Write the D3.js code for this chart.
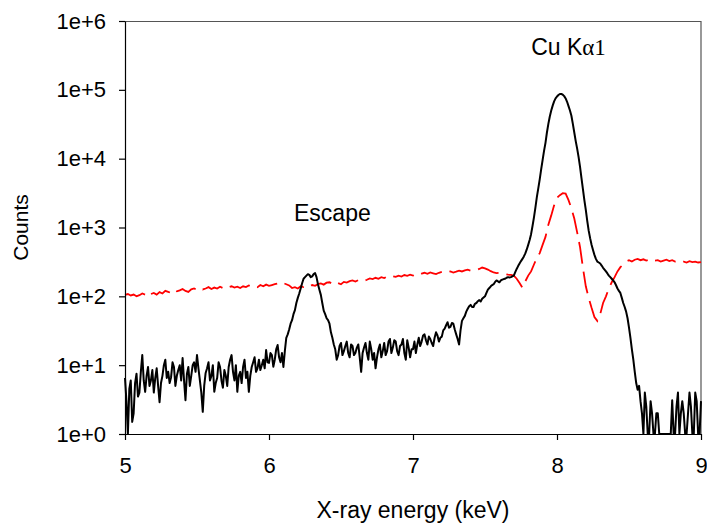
<!DOCTYPE html>
<html>
<head>
<meta charset="utf-8">
<script src="https://cdn.jsdelivr.net/npm/d3@7"></script>
<style>
  body { margin: 0; background: #fff; }
  text { font-family: Arial, "Liberation Sans", sans-serif; fill: #000; }
</style>
</head>
<body>
<svg width="707" height="525"></svg>
<script>
// black spectrum: energy (keV) and counts
let energyBlack = [
  5.00, 5.01, 5.02, 5.03, 5.04, 5.05, 5.06, 5.07, 5.08, 5.09,
  5.10, 5.11, 5.12, 5.13, 5.14, 5.15, 5.16, 5.17, 5.18, 5.19,
  5.20, 5.21, 5.22, 5.23, 5.24, 5.25, 5.26, 5.27, 5.28, 5.29,
  5.30, 5.31, 5.32, 5.33, 5.34, 5.35, 5.36, 5.37, 5.38, 5.39,
  5.40, 5.41, 5.42, 5.43, 5.44, 5.45, 5.46, 5.47, 5.48, 5.49,
  5.50, 5.51, 5.52, 5.53, 5.54, 5.55, 5.56, 5.57, 5.58, 5.59,
  5.60, 5.61, 5.62, 5.63, 5.64, 5.65, 5.66, 5.67, 5.68, 5.69,
  5.70, 5.71, 5.72, 5.73, 5.74, 5.75, 5.76, 5.77, 5.78, 5.79,
  5.80, 5.81, 5.82, 5.83, 5.84, 5.85, 5.86, 5.87, 5.88, 5.89,
  5.90, 5.91, 5.92, 5.93, 5.94, 5.95, 5.96, 5.97, 5.98, 5.99,
  6.00, 6.01, 6.02, 6.03, 6.04, 6.05, 6.06, 6.07, 6.08, 6.09,
  6.10, 6.11, 6.12, 6.13, 6.14, 6.15, 6.16, 6.17, 6.18, 6.19,
  6.20, 6.21, 6.22, 6.23, 6.24, 6.25, 6.26, 6.27, 6.28, 6.29,
  6.30, 6.31, 6.32, 6.33, 6.34, 6.35, 6.36, 6.37, 6.38, 6.39,
  6.40, 6.41, 6.42, 6.43, 6.44, 6.45, 6.46, 6.47, 6.48, 6.49,
  6.50, 6.51, 6.52, 6.53, 6.54, 6.55, 6.56, 6.57, 6.58, 6.59,
  6.60, 6.61, 6.62, 6.63, 6.64, 6.65, 6.66, 6.67, 6.68, 6.69,
  6.70, 6.71, 6.72, 6.73, 6.74, 6.75, 6.76, 6.77, 6.78, 6.79,
  6.80, 6.81, 6.82, 6.83, 6.84, 6.85, 6.86, 6.87, 6.88, 6.89,
  6.90, 6.91, 6.92, 6.93, 6.94, 6.95, 6.96, 6.97, 6.98, 6.99,
  7.00, 7.01, 7.02, 7.03, 7.04, 7.05, 7.06, 7.07, 7.08, 7.09,
  7.10, 7.11, 7.12, 7.13, 7.14, 7.15, 7.16, 7.17, 7.18, 7.19,
  7.20, 7.21, 7.22, 7.23, 7.24, 7.25, 7.26, 7.27, 7.28, 7.29,
  7.30, 7.31, 7.32, 7.33, 7.34, 7.35, 7.36, 7.37, 7.38, 7.39,
  7.40, 7.41, 7.42, 7.43, 7.44, 7.45, 7.46, 7.47, 7.48, 7.49,
  7.50, 7.51, 7.52, 7.53, 7.54, 7.55, 7.56, 7.57, 7.58, 7.59,
  7.60, 7.61, 7.62, 7.63, 7.64, 7.65, 7.66, 7.67, 7.68, 7.69,
  7.70, 7.71, 7.72, 7.73, 7.74, 7.75, 7.76, 7.77, 7.78, 7.79,
  7.80, 7.81, 7.82, 7.83, 7.84, 7.85, 7.86, 7.87, 7.88, 7.89,
  7.90, 7.91, 7.92, 7.93, 7.94, 7.95, 7.96, 7.97, 7.98, 7.99,
  8.00, 8.01, 8.02, 8.03, 8.04, 8.05, 8.06, 8.07, 8.08, 8.09,
  8.10, 8.11, 8.12, 8.13, 8.14, 8.15, 8.16, 8.17, 8.18, 8.19,
  8.20, 8.21, 8.22, 8.23, 8.24, 8.25, 8.26, 8.27, 8.28, 8.29,
  8.30, 8.31, 8.32, 8.33, 8.34, 8.35, 8.36, 8.37, 8.38, 8.39,
  8.40, 8.41, 8.42, 8.43, 8.44, 8.45, 8.46, 8.47, 8.48, 8.49,
  8.50, 8.51, 8.52, 8.53, 8.54, 8.55, 8.56, 8.57, 8.58, 8.59,
  8.60, 8.61, 8.62, 8.63, 8.64, 8.65, 8.66, 8.67, 8.68, 8.69,
  8.70, 8.71, 8.72, 8.73, 8.74, 8.75, 8.76, 8.77, 8.78, 8.79,
  8.80, 8.81, 8.82, 8.83, 8.84, 8.85, 8.86, 8.87, 8.88, 8.89,
  8.90, 8.91, 8.92, 8.93, 8.94, 8.95, 8.96, 8.97, 8.98, 8.99,
  9.00
];

let countsBlack = [
  6.5, 3.0, 1.0, 4.5, 6.0, 1.5, 2.0, 5.5, 7.5, 3.5,
  4.0, 8.0, 14, 6.0, 4.1, 7.0, 9.4, 5.0, 6.0, 8.5,
  4.0, 6.5, 9.0, 5.0, 2.9, 5.5, 7.0, 10, 12, 6.5,
  8.0, 5.5, 6.7, 11, 9.4, 5.0, 7.0, 8.5, 10, 6.0,
  12.7, 6.0, 3.1, 7.5, 9.4, 5.0, 7.0, 10, 11, 8.0,
  14, 9.0, 6.0, 4.0, 2.1, 5.0, 7.7, 9.0, 11, 6.0,
  7.0, 10, 4.1, 5.5, 6.5, 11, 9.4, 6.0, 4.7, 8.5,
  7.0, 5.0, 9.4, 12, 14, 8.0, 6.0, 10, 4.1, 7.0,
  8.0, 5.5, 9.4, 12, 6.5, 8.0, 4.1, 7.0, 9.4, 11,
  13, 8.0, 9.0, 12, 8.5, 10, 12, 9.0, 16.6, 11,
  10.8, 15, 14, 9.5, 12, 17, 19.6, 13, 11, 15,
  9.4, 16, 25, 28, 33, 40, 45, 55, 63, 80,
  95, 110, 130, 155, 180, 190, 200, 210, 205, 190,
  195, 210, 217, 190, 150, 125, 105, 80, 62, 55,
  48, 45, 40, 30, 25, 20, 17, 12, 14, 19,
  21, 14, 16, 19, 22, 15, 13, 20, 19, 14,
  15, 18, 20, 13, 8, 15, 18, 21, 15, 12,
  22, 17, 12, 15, 9, 13, 17, 20, 13, 16,
  21, 14, 16, 22, 24, 15, 18, 23, 22, 16,
  14, 19, 20, 24, 15, 12, 23, 18, 13, 17,
  17, 22, 15, 20, 25, 19, 22, 27, 28, 23,
  20, 26, 24, 21, 19, 25, 30, 27, 22, 25,
  26, 32, 34, 38, 42, 35, 36, 41, 40, 33,
  28, 24, 20, 32, 44, 48, 52, 60, 66, 72,
  75, 70, 70, 78, 80, 85, 88, 84, 92, 96,
  100, 112, 125, 132, 140, 146, 150, 162, 170, 165,
  160, 170, 175, 178, 180, 186, 190, 188, 190, 195,
  200, 225, 250, 275, 300, 325, 350, 380, 420, 480,
  560, 660, 800, 1050, 1400, 1950, 2770, 3700, 5000, 7000,
  9500, 13000, 17000, 24000, 32000, 41000, 50000, 59000, 68000, 75000,
  80000, 84000, 87000, 87000, 85000, 81000, 75000, 67000, 58000, 50000,
  42000, 32000, 24000, 18000, 14000, 10500, 7600, 5200, 3600, 2500,
  1800, 1250, 900, 700, 560, 470, 400, 350, 320, 310,
  300, 280, 260, 245, 230, 215, 200, 190, 180, 170,
  160, 145, 130, 120, 112, 95, 80, 70, 60, 48,
  35, 25, 17, 12, 8, 5.5, 4.4, 5, 3, 2,
  1, 4, 2.5, 1, 1, 3, 2, 1, 1, 2,
  2, 1, 1, 1, 1, 1, 1, 1, 1, 1,
  3.1, 1, 1, 2.5, 4, 1, 2, 3, 2, 1,
  1, 2, 4, 2.5, 1, 1, 4, 3, 1, 1,
  3
];

// red dashed spectrum: energy (keV) and counts
let energyRed = [
  5.00, 5.02, 5.04, 5.06, 5.08, 5.10, 5.12, 5.14, 5.16, 5.18,
  5.20, 5.22, 5.24, 5.26, 5.28, 5.30, 5.32, 5.34, 5.36, 5.38,
  5.40, 5.42, 5.44, 5.46, 5.48, 5.50, 5.52, 5.54, 5.56, 5.58,
  5.60, 5.62, 5.64, 5.66, 5.68, 5.70, 5.72, 5.74, 5.76, 5.78,
  5.80, 5.82, 5.84, 5.86, 5.88, 5.90, 5.92, 5.94, 5.96, 5.98,
  6.00, 6.02, 6.04, 6.06, 6.08, 6.10, 6.12, 6.14, 6.16, 6.18,
  6.20, 6.22, 6.24, 6.26, 6.28, 6.30, 6.32, 6.34, 6.36, 6.38,
  6.40, 6.42, 6.44, 6.46, 6.48, 6.50, 6.52, 6.54, 6.56, 6.58,
  6.60, 6.62, 6.64, 6.66, 6.68, 6.70, 6.72, 6.74, 6.76, 6.78,
  6.80, 6.82, 6.84, 6.86, 6.88, 6.90, 6.92, 6.94, 6.96, 6.98,
  7.00, 7.02, 7.04, 7.06, 7.08, 7.10, 7.12, 7.14, 7.16, 7.18,
  7.20, 7.22, 7.24, 7.26, 7.28, 7.30, 7.32, 7.34, 7.36, 7.38,
  7.40, 7.42, 7.44, 7.46, 7.48, 7.50, 7.52, 7.54, 7.56, 7.58,
  7.60, 7.62, 7.64, 7.66, 7.68, 7.70, 7.72, 7.74, 7.76, 7.78,
  7.80, 7.82, 7.84, 7.86, 7.88, 7.90, 7.92, 7.94, 7.96, 7.98,
  8.00, 8.02, 8.04, 8.06, 8.08, 8.10, 8.12, 8.14, 8.16, 8.18,
  8.20, 8.22, 8.24, 8.26, 8.28, 8.30, 8.32, 8.34, 8.36, 8.38,
  8.40, 8.42, 8.44, 8.46, 8.48, 8.50, 8.52, 8.54, 8.56, 8.58,
  8.60, 8.62, 8.64, 8.66, 8.68, 8.70, 8.72, 8.74, 8.76, 8.78,
  8.80, 8.82, 8.84, 8.86, 8.88, 8.90, 8.92, 8.94, 8.96, 8.98,
  9.00
];

let countsRed = [
  105, 108, 103, 106, 100, 104, 110, 106, 98, 108,
  112, 106, 115, 110, 120, 116, 112, 124, 118, 122,
  128, 120, 116, 126, 130, 124, 132, 126, 130, 136,
  128, 134, 130, 138, 132, 128, 136, 140, 134, 138,
  132, 140, 136, 144, 138, 142, 136, 146, 140, 148,
  142, 146, 150, 154, 148, 156, 150, 144, 132, 136,
  130, 140, 136, 144, 140, 146, 142, 150, 154, 148,
  158, 160, 152, 146, 156, 150, 162, 158, 166, 170,
  164, 172, 176, 168, 174, 182, 178, 186, 180, 190,
  184, 194, 188, 196, 192, 200, 194, 204, 198, 206,
  200, 210, 204, 214, 220, 212, 222, 216, 210, 220,
  226, 218, 224, 230, 222, 228, 236, 230, 238, 244,
  236, 242, 240, 250, 262, 255, 245, 232, 222, 218,
  220, 214, 210, 206, 205, 200, 180, 156, 133, 165,
  200, 230, 290, 360, 425, 560, 730, 1100, 1500, 2100,
  2700, 2950, 3150, 3100, 2500, 1900, 1350, 850, 520, 260,
  140, 95, 68, 50, 44, 55, 80, 100, 130, 160,
  190, 230, 265, 290, 320, 335, 320, 340, 350, 335,
  345, 330, 340, 350, 330, 335, 320, 330, 340, 325,
  335, 320, 330, 315, 320, 310, 325, 315, 320, 310,
  315
];

let xTicks = [5, 6, 7, 8, 9];
let yTicks = [1, 10, 100, 1000, 10000, 100000, 1000000];
let yTickLabels = ["1e+0", "1e+1", "1e+2", "1e+3", "1e+4", "1e+5", "1e+6"];

let svg = d3.select("svg"),
    margin = {top: 21, right: 6, bottom: 91, left: 125},
    width = svg.attr("width") - margin.left - margin.right,
    height = svg.attr("height") - margin.top - margin.bottom;

let x = d3.scaleLinear().domain([5, 9]).range([0, width]),
    y = d3.scaleLog().domain([1, 1e6]).range([height, 0]);

let g = svg.append("g")
    .attr("transform", "translate(" + margin.left + "," + margin.top + ")");

// top and right frame
g.append("path")
    .attr("d", "M0,0.5H" + width + "V" + height)
    .attr("fill", "none")
    .attr("stroke", "#555")
    .attr("stroke-width", 1.2);

let line = d3.line()
    .x((d) => x(d[0]))
    .y((d) => y(d[1]));

g.append("path")
    .datum(d3.zip(energyRed, countsRed))
    .attr("fill", "none")
    .attr("stroke", "#ff0000")
    .attr("stroke-width", 1.8)
    .attr("stroke-dasharray", "22,8")
    .attr("d", line);

g.append("path")
    .datum(d3.zip(energyBlack, countsBlack))
    .attr("fill", "none")
    .attr("stroke", "#000")
    .attr("stroke-width", 2)
    .attr("stroke-linejoin", "round")
    .attr("d", line);

let xAxis = g.append("g")
    .attr("transform", "translate(0," + height + ")")
    .call(d3.axisBottom(x).tickValues(xTicks).tickSize(6).tickSizeOuter(0).tickPadding(17).tickFormat(d3.format("d")));

let yAxis = g.append("g")
    .call(d3.axisLeft(y).tickValues(yTicks).tickSize(6).tickSizeOuter(0).tickPadding(13)
      .tickFormat((d, i) => yTickLabels[i]));

[xAxis, yAxis].forEach((a) => {
  a.selectAll("path, line").attr("stroke", "#000").attr("stroke-width", 1.2);
  a.selectAll("text").style("font-size", "22px").attr("fill", "#000");
});

svg.append("text")
    .attr("x", margin.left + width / 2)
    .attr("y", 518)
    .attr("text-anchor", "middle")
    .style("font-size", "23px")
    .text("X-ray energy (keV)");

svg.append("text")
    .attr("transform", "translate(28," + (margin.top + height / 2) + ") rotate(-90)")
    .attr("text-anchor", "middle")
    .style("font-size", "21px")
    .text("Counts");

svg.append("text")
    .attr("x", margin.left + x(6.44))
    .attr("y", 221)
    .attr("text-anchor", "middle")
    .style("font-size", "23px")
    .text("Escape");

let cu = svg.append("text")
    .attr("x", margin.left + x(8.08))
    .attr("y", 55)
    .attr("text-anchor", "middle")
    .style("font-size", "23px");
cu.append("tspan").text("Cu K");
cu.append("tspan").style("font-family", "'Liberation Serif', 'Times New Roman', serif").text("α1");
</script>
</body>
</html>
